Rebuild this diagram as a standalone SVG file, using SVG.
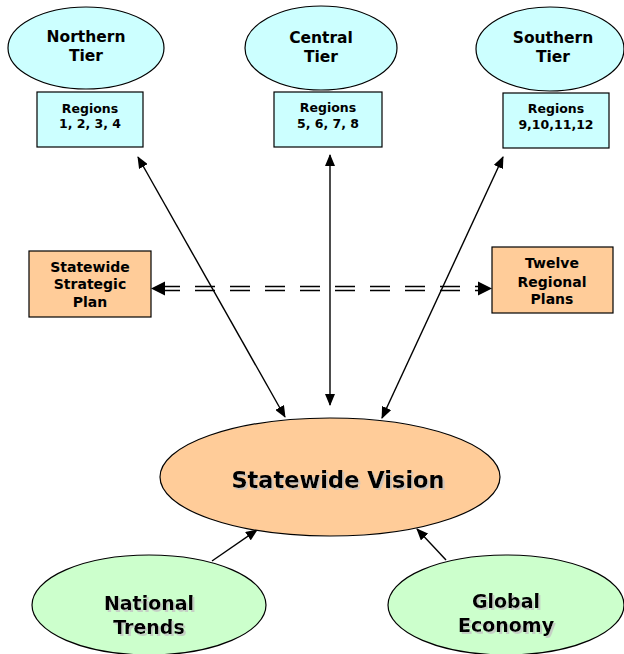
<svg xmlns="http://www.w3.org/2000/svg" width="624" height="654" viewBox="0 0 624 654">
<defs>
<marker id="ah" markerUnits="userSpaceOnUse" markerWidth="12" markerHeight="10" refX="11" refY="5" orient="auto-start-reverse" viewBox="0 0 12 10">
<path d="M0,0 L12,5 L0,10 Z" fill="#000"/>
</marker>
<filter id="sh" x="-10%" y="-10%" width="120%" height="130%">
<feOffset in="SourceAlpha" dx="1.5" dy="1.5" result="o"/>
<feColorMatrix in="o" type="matrix" values="0 0 0 0 0.55  0 0 0 0 0.55  0 0 0 0 0.55  0 0 0 0.8 0" result="c"/>
<feMerge><feMergeNode in="c"/><feMergeNode in="SourceGraphic"/></feMerge>
</filter>
</defs>
<style>
text{font-family:"DejaVu Sans","Verdana",sans-serif;font-weight:bold;fill:#000;text-anchor:middle}
.tier{fill:#CCFFFF;stroke:#000;stroke-width:1.2}
.plan{fill:#FFCC99;stroke:#000;stroke-width:1.2}
.ext{fill:#CCFFCC;stroke:#000;stroke-width:1.2}
.t15{font-size:15.5px}
.t13{font-size:12.5px}
.t14{font-size:14px}
.t19{font-size:19px}
.t22{font-size:22.5px}
.ln{stroke:#000;stroke-width:1.4;fill:none}
.dl{stroke:#000;stroke-width:1.5;fill:none;stroke-dasharray:20 15}
.hd{fill:#000}
</style>
<g id="connectors">
<line class="ln" x1="138" y1="157" x2="285" y2="417" marker-start="url(#ah)" marker-end="url(#ah)"/>
<line class="ln" x1="330" y1="155" x2="330" y2="405" marker-start="url(#ah)" marker-end="url(#ah)"/>
<line class="ln" x1="503" y1="157" x2="382" y2="418" marker-start="url(#ah)" marker-end="url(#ah)"/>
<line class="ln" x1="212" y1="561" x2="257" y2="530" marker-end="url(#ah)"/>
<line class="ln" x1="446" y1="560" x2="417" y2="529" marker-end="url(#ah)"/>
<line class="dl" x1="160" y1="286.5" x2="482" y2="286.5"/>
<line class="dl" x1="160" y1="290.5" x2="482" y2="290.5"/>
<polygon class="hd" points="151,288.5 165,281.5 165,295.5"/>
<polygon class="hd" points="492,288.5 478,281.5 478,295.5"/>
</g>
<g id="northern-tier">
<ellipse class="tier" cx="86" cy="48" rx="78" ry="41"/>
<text class="t15" x="86" y="42">Northern</text>
<text class="t15" x="86" y="61">Tier</text>
</g>
<g id="regions-1-4">
<rect class="tier" x="37" y="92" width="106" height="55"/>
<text class="t13" x="90" y="113">Regions</text>
<text class="t13" x="90" y="128">1, 2, 3, 4</text>
</g>
<g id="central-tier">
<ellipse class="tier" cx="321" cy="48" rx="76" ry="42"/>
<text class="t15" x="321" y="43">Central</text>
<text class="t15" x="321" y="62">Tier</text>
</g>
<g id="regions-5-8">
<rect class="tier" x="274" y="92" width="108" height="55"/>
<text class="t13" x="328" y="112">Regions</text>
<text class="t13" x="328" y="128">5, 6, 7, 8</text>
</g>
<g id="southern-tier">
<ellipse class="tier" cx="550" cy="49" rx="74" ry="42"/>
<text class="t15" x="553" y="43">Southern</text>
<text class="t15" x="553" y="62">Tier</text>
</g>
<g id="regions-9-12">
<rect class="tier" x="503" y="93" width="106" height="55"/>
<text class="t13" x="556" y="113">Regions</text>
<text class="t13" x="556" y="129">9,10,11,12</text>
</g>
<g id="statewide-strategic-plan">
<rect class="plan" x="29" y="251" width="122" height="66"/>
<text class="t14" x="90" y="272">Statewide</text>
<text class="t14" x="90" y="289">Strategic</text>
<text class="t14" x="90" y="307">Plan</text>
</g>
<g id="twelve-regional-plans">
<rect class="plan" x="492" y="247" width="121" height="66"/>
<text class="t14" x="552" y="268">Twelve</text>
<text class="t14" x="552" y="287">Regional</text>
<text class="t14" x="552" y="304">Plans</text>
</g>
<g id="statewide-vision">
<ellipse class="plan" cx="330" cy="477" rx="170" ry="59"/>
<text class="t22" x="338" y="488" filter="url(#sh)">Statewide Vision</text>
</g>
<g id="national-trends">
<ellipse class="ext" cx="149" cy="605" rx="117" ry="50"/>
<text class="t19" x="149" y="610" filter="url(#sh)">National</text>
<text class="t19" x="149" y="634" filter="url(#sh)">Trends</text>
</g>
<g id="global-economy">
<ellipse class="ext" cx="506" cy="605" rx="118" ry="50"/>
<text class="t19" x="506" y="608" filter="url(#sh)">Global</text>
<text class="t19" x="506" y="632" filter="url(#sh)">Economy</text>
</g>
</svg>
